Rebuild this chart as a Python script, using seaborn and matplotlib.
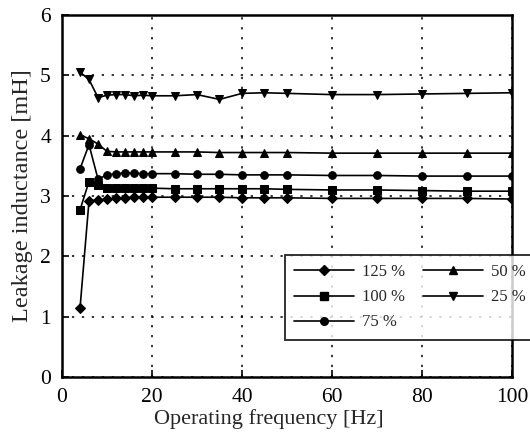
import pandas as pd
import seaborn as sns
import matplotlib.pyplot as plt

sns.set_style("ticks")
plt.rcParams["font.family"] = ["Liberation Serif", "DejaVu Serif"]

freq = [4, 6, 8, 10, 12, 14, 16, 18, 20, 25, 30, 35, 40, 45, 50,
        60, 70, 80, 90, 100]
load_125 = [1.14, 2.92, 2.93, 2.95, 2.96, 2.97, 2.98, 2.98, 2.98, 2.98,
            2.98, 2.98, 2.97, 2.97, 2.97, 2.96, 2.96, 2.96, 2.96, 2.95]
load_100 = [2.77, 3.24, 3.18, 3.14, 3.13, 3.13, 3.13, 3.13, 3.13, 3.12,
            3.12, 3.12, 3.12, 3.12, 3.11, 3.10, 3.10, 3.09, 3.08, 3.08]
load_75 = [3.45, 3.85, 3.28, 3.35, 3.37, 3.38, 3.38, 3.37, 3.37, 3.37,
           3.36, 3.36, 3.35, 3.35, 3.35, 3.34, 3.34, 3.33, 3.33, 3.33]
load_50 = [4.01, 3.95, 3.86, 3.74, 3.73, 3.73, 3.73, 3.73, 3.73, 3.73,
           3.73, 3.72, 3.72, 3.72, 3.72, 3.71, 3.71, 3.71, 3.71, 3.71]
load_25 = [5.05, 4.93, 4.63, 4.67, 4.68, 4.68, 4.66, 4.67, 4.66, 4.66,
           4.68, 4.60, 4.70, 4.71, 4.70, 4.68, 4.68, 4.69, 4.70, 4.71]

labels = ["125 %", "100 %", "75 %", "50 %", "25 %"]
series = [load_125, load_100, load_75, load_50, load_25]
markers = {"125 %": "D", "100 %": "s", "75 %": "o", "50 %": "^", "25 %": "v"}

df = pd.concat([pd.DataFrame({"freq": freq, "L": vals, "load": lab})
                for lab, vals in zip(labels, series)])

fig = plt.figure(figsize=(5.3, 4.38), dpi=100)
ax = fig.add_axes([0.117, 0.139, 0.849, 0.827])

sns.lineplot(data=df, x="freq", y="L", hue="load", style="load",
             markers=markers, dashes=False, palette=["black"] * 5,
             markersize=5.5, linewidth=1.2, markeredgecolor="black",
             ax=ax, legend=False)

ax.set_xlim(0, 100)
ax.set_ylim(0, 6)
ax.set_xticks([0, 20, 40, 60, 80, 100])
ax.set_yticks([0, 1, 2, 3, 4, 5, 6])
ax.grid(True, color="black", linestyle=(0, (1.5, 5)), linewidth=1.1)
ax.tick_params(direction="in", length=5, width=1.2, labelsize=15.5,
               colors="black", pad=8)
for s in ax.spines.values():
    s.set_linewidth(1.8)
    s.set_color("black")

ax.set_xlabel("Operating frequency [Hz]", fontsize=16)
ax.xaxis.set_label_coords(0.46, -0.088)
ax.set_ylabel("Leakage inductance [mH]", fontsize=17.5, labelpad=5)

# legend box runs past the right spine to the edge of the figure
handles = [plt.Line2D([], [], color="black", marker=markers[l], lw=1.2,
                      markersize=5.5) for l in labels]
leg = ax.legend(handles, labels, ncol=2, loc="upper left",
                bbox_to_anchor=(285 / 530, 1 - 255 / 438, 250 / 530, 0),
                bbox_transform=fig.transFigure, mode="expand",
                frameon=True, fancybox=False, edgecolor="black",
                fontsize=12, handlelength=3.6, columnspacing=0.8,
                handletextpad=0.5, borderpad=0.55, labelspacing=0.55,
                borderaxespad=0)
leg.get_frame().set_linewidth(1.4)
leg.set_zorder(5)

fig.savefig("out.png", dpi=100)
